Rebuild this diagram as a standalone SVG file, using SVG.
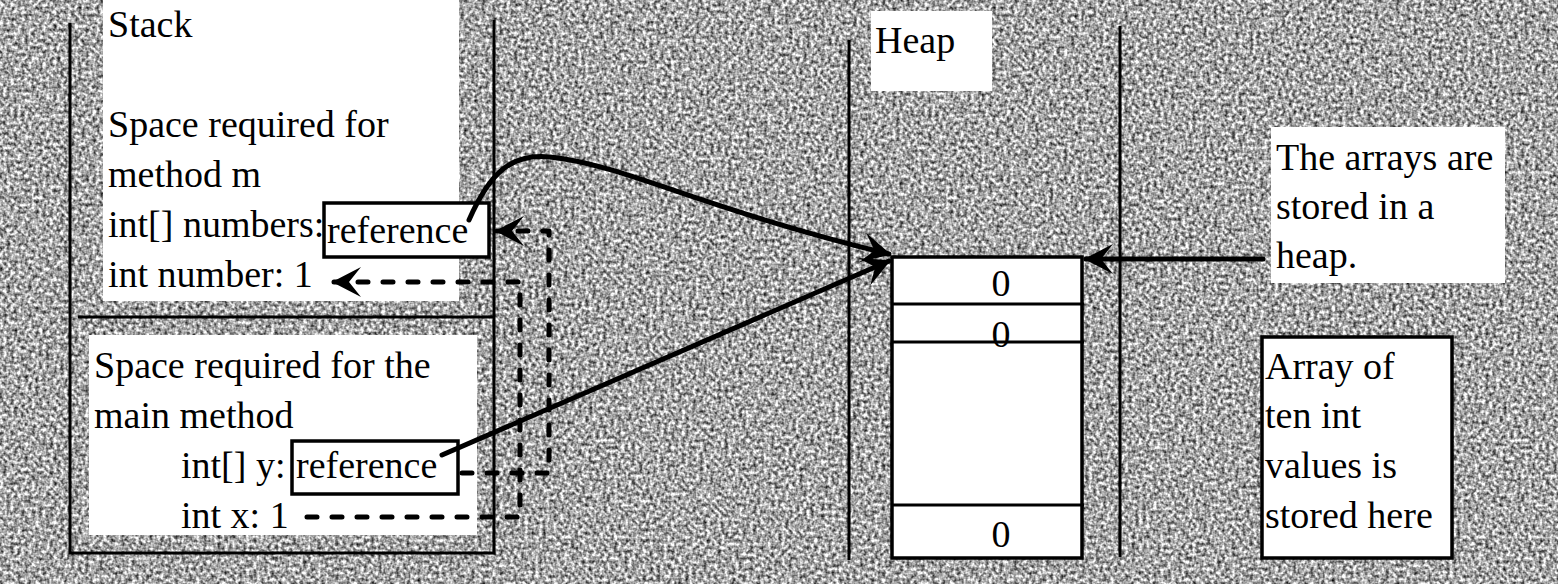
<svg xmlns="http://www.w3.org/2000/svg" width="1558" height="584" viewBox="0 0 1558 584">
<defs>
<filter id="noise" filterUnits="userSpaceOnUse" x="0" y="0" width="1558" height="584" color-interpolation-filters="sRGB">
<feTurbulence type="fractalNoise" baseFrequency="0.28" numOctaves="2" seed="3" result="n"/>
<feColorMatrix in="n" type="matrix" values="1.5 0 0 0 -0.1  1.5 0 0 0 -0.1  1.5 0 0 0 -0.1  0 0 0 0 1"/>
</filter>
<marker id="ah" markerUnits="userSpaceOnUse" markerWidth="40" markerHeight="40" viewBox="-30 -20 34 40" refX="0" refY="0" orient="auto">
<path d="M2,0 L-27,-15 Q-19,-5 -15,0 Q-19,5 -27,15 Z" fill="#000"/>
</marker>
</defs>
<style>
text{font-family:"Liberation Serif","Times New Roman",serif;font-size:38px;fill:#000}
.wall{stroke:#000;stroke-width:3;fill:none}
.white{fill:#fff}
.box{fill:#fff;stroke:#000;stroke-width:3.5}
.solid{stroke:#000;stroke-width:5;fill:none;stroke-linecap:round}
.dash{stroke:#000;stroke-width:5;fill:none;stroke-dasharray:10 15;stroke-linecap:round;stroke-linejoin:round}
.zero{text-anchor:middle}
</style>
<rect x="0" y="0" width="1558" height="584" fill="#a6a6a6"/>
<rect x="0" y="0" width="1558" height="584" filter="url(#noise)"/>

<g id="stack">
<rect class="white" x="103" y="0" width="356" height="301"/>
<rect class="white" x="89" y="335" width="388" height="200"/>
<path class="wall" d="M70,23 V553 H494 V20"/>
<line class="wall" x1="78" y1="317" x2="494" y2="317"/>
<text x="108" y="37">Stack</text>
<text x="108" y="137">Space required for</text>
<text x="108" y="187">method m</text>
<text x="108" y="237">int[] numbers:</text>
<text x="108" y="287">int number: 1</text>
<text x="94" y="378">Space required for the</text>
<text x="94" y="428">main method</text>
<text x="181" y="478">int[] y:</text>
<text x="181" y="528">int x: 1</text>
</g>

<g id="ref-numbers">
<rect class="box" x="324" y="203" width="165" height="54"/>
<text x="327" y="243">reference</text>
</g>

<g id="ref-y">
<rect class="box" x="292" y="441" width="166" height="53"/>
<text x="296" y="478">reference</text>
</g>

<g id="heap">
<rect class="white" x="871" y="11" width="121" height="80"/>
<text x="875" y="53">Heap</text>
<line class="wall" x1="849" y1="40" x2="849" y2="560"/>
<line class="wall" x1="1120" y1="26" x2="1120" y2="557"/>
</g>

<g id="array">
<rect class="box" x="892" y="257" width="190" height="301"/>
<line class="wall" x1="892" y1="304" x2="1084" y2="304" stroke-width="4"/>
<line class="wall" x1="892" y1="342" x2="1084" y2="342" stroke-width="4"/>
<line class="wall" x1="892" y1="505" x2="1084" y2="505" stroke-width="4"/>
<text class="zero" x="1001" y="296">0</text>
<text class="zero" x="1001" y="347">0</text>
<text class="zero" x="1001" y="547">0</text>
</g>

<g id="note-heap">
<rect class="white" x="1271" y="127" width="234" height="156"/>
<text x="1276" y="170">The arrays are</text>
<text x="1276" y="219">stored in a</text>
<text x="1276" y="268">heap.</text>
</g>

<g id="note-array">
<rect class="box" x="1262" y="337" width="190" height="221"/>
<text x="1265" y="379">Array of</text>
<text x="1265" y="428">ten int</text>
<text x="1265" y="478">values is</text>
<text x="1265" y="528">stored here</text>
</g>

<g id="connectors">
<path class="solid" d="M469,220 C490,172 512,153 550,157 C625,165 700,208 889,254" marker-end="url(#ah)"/>
<path class="solid" d="M442,455 L889,261" marker-end="url(#ah)"/>
<path class="solid" d="M1263,259 L1086,259" marker-end="url(#ah)"/>
<path class="dash" d="M462,473 H549 V231 H497" marker-end="url(#ah)"/>
<path class="dash" d="M307,517 H520 V282 H334" marker-end="url(#ah)"/>
</g>
</svg>
